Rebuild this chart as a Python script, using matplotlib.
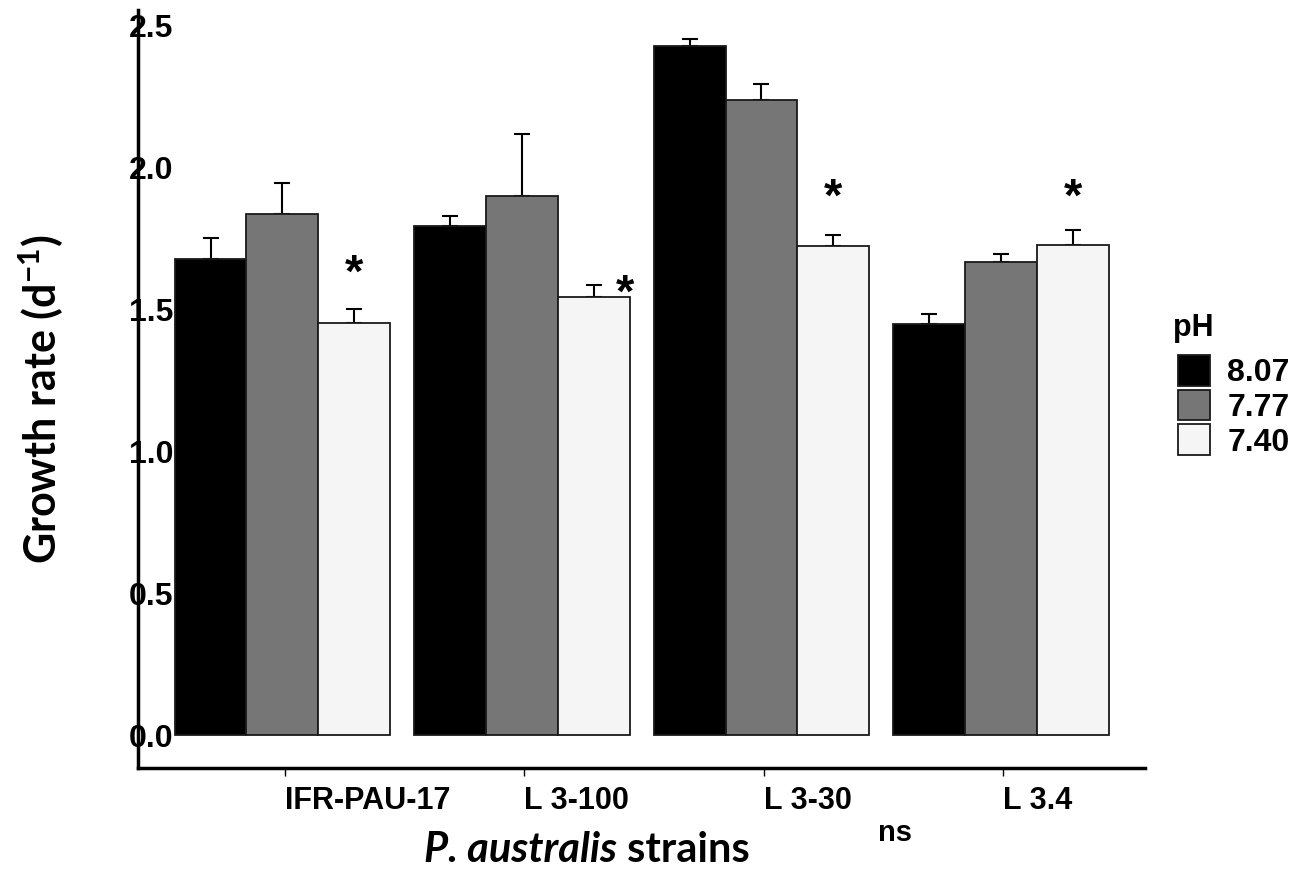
import matplotlib
matplotlib.use("Agg")
import matplotlib.pyplot as plt
from matplotlib.patches import Patch
import numpy as np

# Data
strains = ["IFR-PAU-17", "L 3-100", "L 3-30", "L 3.4"]
ph_levels = ["8.07", "7.77", "7.40"]
growth_807 = [1.677, 1.791, 2.425, 1.446]
growth_777 = [1.836, 1.898, 2.236, 1.665]
growth_740 = [1.451, 1.541, 1.722, 1.726]
err_807 = [0.073, 0.038, 0.027, 0.037]
err_777 = [0.107, 0.219, 0.057, 0.029]
err_740 = [0.050, 0.045, 0.040, 0.052]
signif = [True, True, True, True]  # 7.40 differs from control

bar_colors = ["#000000", "#767676", "#f5f5f5"]

plt.rcParams["mathtext.fontset"] = "custom"
plt.rcParams["mathtext.bf"] = "Lato:bold"
plt.rcParams["mathtext.rm"] = "Lato:bold"

fig = plt.figure(figsize=(12.93, 8.74), dpi=100)
ax = fig.add_axes([0.1067, 0.1213, 0.8855 - 0.1067, 0.9886 - 0.1213])

x = np.arange(len(strains))
w = 0.3
series = [(growth_807, err_807), (growth_777, err_777), (growth_740, err_740)]
for j, (vals, errs) in enumerate(series):
    pos = x + (j - 1) * w
    ax.bar(pos, vals, width=w, color=bar_colors[j], edgecolor="#1a1a1a",
           linewidth=1.3, zorder=2)
    ax.errorbar(pos, vals, yerr=[np.zeros(len(vals)), errs], fmt="none",
                ecolor="black", elinewidth=1.5, capsize=6, capthick=1.5, zorder=1)

# significance stars above the pH 7.40 bars
star_dx = [0.0, 0.13, 0.0, 0.0]
star_y = [1.62, 1.55, 1.89, 1.89]
for i in range(len(strains)):
    if signif[i]:
        ax.text(x[i] + w + star_dx[i], star_y[i], "*", ha="center", va="center",
                fontsize=34, fontweight="bold", family="Liberation Sans", zorder=5)

ax.set_xlim(-0.603, 3.601)
ax.set_ylim(-0.116, 2.553)

for s in ["top", "right"]:
    ax.spines[s].set_visible(False)
for s in ["left", "bottom"]:
    ax.spines[s].set_linewidth(2.5)

ax.set_yticks([0, 0.5, 1.0, 1.5, 2.0, 2.5])
ax.set_yticklabels(["0.0", "0.5", "1.0", "1.5", "2.0", "2.5"],
                   fontsize=23, fontweight="bold", family="Liberation Sans")
ax.tick_params(axis="y", length=0, pad=6.5)
for lbl in ax.get_yticklabels():
    lbl.set_horizontalalignment("left")

ax.set_xticks(x + 0.01)
ax.set_xticklabels(strains, fontsize=22, fontweight="bold", family="Liberation Sans")
ax.tick_params(axis="x", length=6, width=1, pad=7)
for lbl in ax.get_xticklabels():
    lbl.set_horizontalalignment("left")

fig.text(0.032, 0.543, r"Growth rate (d$^{\mathbf{-1}}$)", rotation=90, ha="center",
         va="center", fontsize=31, fontweight="bold", family="Lato")
# x-axis title: italic species name + plain "strains"
fig.text(0.477, 0.028, "P. australis", ha="right", va="center", fontsize=30,
         fontweight="bold", fontstyle="italic", family="Lato")
fig.text(0.477, 0.028, " strains", ha="left", va="center", fontsize=30,
         fontweight="bold", family="Lato")
fig.text(0.692, 0.047, "ns", ha="center", va="center", fontsize=21,
         fontweight="bold", family="Liberation Sans")

# legend
fig.text(0.907, 0.625, "pH", ha="left", va="center", fontsize=22,
         fontweight="bold", family="Liberation Sans")
handles = [Patch(facecolor=c, edgecolor="#1a1a1a", linewidth=1.3) for c in bar_colors]
fig.legend(handles, ph_levels, loc="upper left", bbox_to_anchor=(0.911, 0.594),
           frameon=False, handlelength=1.0, handleheight=1.1, labelspacing=0.05,
           handletextpad=0.55, borderpad=0, borderaxespad=0,
           prop={"weight": "bold", "family": "Liberation Sans", "size": 23})

fig.savefig("out.png", dpi=100)
